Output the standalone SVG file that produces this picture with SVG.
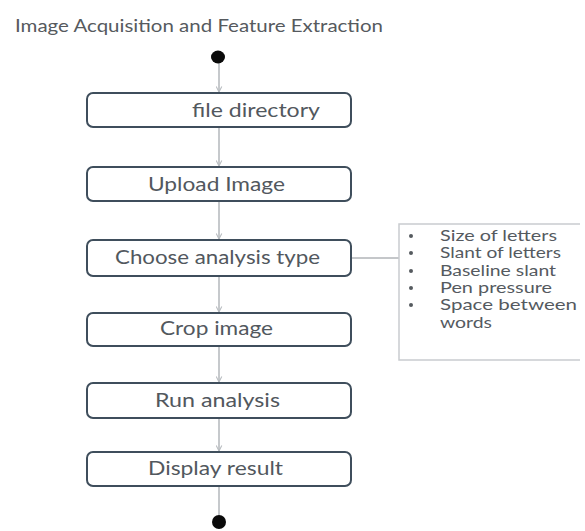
<svg xmlns="http://www.w3.org/2000/svg" width="585" height="531" viewBox="0 0 585 531">
  <defs>
    <marker id="arrow" viewBox="0 0 10 10" refX="9" refY="5" markerWidth="7" markerHeight="7" orient="auto" markerUnits="userSpaceOnUse">
      <path d="M1,1 L9,5 L1,9" fill="none" stroke="#b8bcc0" stroke-width="1.5"/>
    </marker>
    <style>
      .title { font-family: Lato, "Liberation Sans", sans-serif; font-size: 18px; fill: #565a5e; }
      .box { fill: #fff; stroke: #3f4e5c; stroke-width: 2; }
      .label { font-family: Lato, "Liberation Sans", sans-serif; font-size: 19.5px; fill: #52585e; text-anchor: middle; }
      .flow { stroke: #c6c9cc; stroke-width: 2; fill: none; }
      .note { font-family: Lato, "Liberation Sans", sans-serif; font-size: 15px; fill: #555a5f; }
      .bullet { fill: #555a5f; }
      .dot { fill: #0a0a0a; }
    </style>
  </defs>
  <rect width="585" height="531" fill="#fff"/>

  <text class="title" x="15" y="32" textLength="368" lengthAdjust="spacingAndGlyphs">Image Acquisition and Feature Extraction</text>

  <g id="connectors">
    <line class="flow" x1="219" y1="63" x2="219" y2="92" marker-end="url(#arrow)"/>
    <line class="flow" x1="219" y1="128" x2="219" y2="166" marker-end="url(#arrow)"/>
    <line class="flow" x1="219" y1="201" x2="219" y2="239" marker-end="url(#arrow)"/>
    <line class="flow" x1="219" y1="277" x2="219" y2="312" marker-end="url(#arrow)"/>
    <line class="flow" x1="219" y1="346" x2="219" y2="382" marker-end="url(#arrow)"/>
    <line class="flow" x1="219" y1="419" x2="219" y2="451" marker-end="url(#arrow)"/>
    <line class="flow" x1="219" y1="487" x2="219" y2="515"/>
    <line x1="351" y1="258" x2="399" y2="258" stroke="#8a8f94" stroke-width="1"/>
  </g>

  <g id="start">
    <ellipse class="dot" cx="218" cy="57" rx="7" ry="6.5"/>
  </g>

  <g id="file-directory">
    <rect class="box" x="87" y="93" width="264" height="34" rx="6"/>
    <text class="label" x="256" y="117" textLength="128" lengthAdjust="spacingAndGlyphs">file directory</text>
  </g>

  <g id="upload-image">
    <rect class="box" x="87" y="167" width="264" height="34" rx="6"/>
    <text class="label" x="216.5" y="191" textLength="137" lengthAdjust="spacingAndGlyphs">Upload Image</text>
  </g>

  <g id="choose-analysis-type">
    <rect class="box" x="87" y="240" width="264" height="36" rx="6"/>
    <text class="label" x="217.5" y="264" textLength="205" lengthAdjust="spacingAndGlyphs">Choose analysis type</text>
  </g>

  <g id="crop-image">
    <rect class="box" x="87" y="313" width="264" height="33" rx="6"/>
    <text class="label" x="216.5" y="335" textLength="113" lengthAdjust="spacingAndGlyphs">Crop image</text>
  </g>

  <g id="run-analysis">
    <rect class="box" x="87" y="383" width="264" height="35" rx="6"/>
    <text class="label" x="217.5" y="407" textLength="125" lengthAdjust="spacingAndGlyphs">Run analysis</text>
  </g>

  <g id="display-result">
    <rect class="box" x="87" y="452" width="264" height="34" rx="6"/>
    <text class="label" x="215.5" y="475" textLength="135" lengthAdjust="spacingAndGlyphs">Display result</text>
  </g>

  <g id="end">
    <ellipse class="dot" cx="219" cy="522" rx="7" ry="7"/>
  </g>

  <g id="analysis-features">
    <path d="M580,224 H399 V360 H580" fill="none" stroke="#c9cccf" stroke-width="1.5"/>
    <circle class="bullet" cx="411" cy="236" r="2"/>
    <circle class="bullet" cx="411" cy="253" r="2"/>
    <circle class="bullet" cx="411" cy="271" r="2"/>
    <circle class="bullet" cx="411" cy="288" r="2"/>
    <circle class="bullet" cx="411" cy="305" r="2"/>
    <g class="note">
      <text x="440" y="241" textLength="117" lengthAdjust="spacingAndGlyphs">Size of letters</text>
      <text x="440" y="258" textLength="121" lengthAdjust="spacingAndGlyphs">Slant of letters</text>
      <text x="440" y="276" textLength="116" lengthAdjust="spacingAndGlyphs">Baseline slant</text>
      <text x="440" y="293" textLength="112" lengthAdjust="spacingAndGlyphs">Pen pressure</text>
      <text x="440" y="310" textLength="137" lengthAdjust="spacingAndGlyphs">Space between</text>
      <text x="440" y="328" textLength="52" lengthAdjust="spacingAndGlyphs">words</text>
    </g>
  </g>
</svg>
